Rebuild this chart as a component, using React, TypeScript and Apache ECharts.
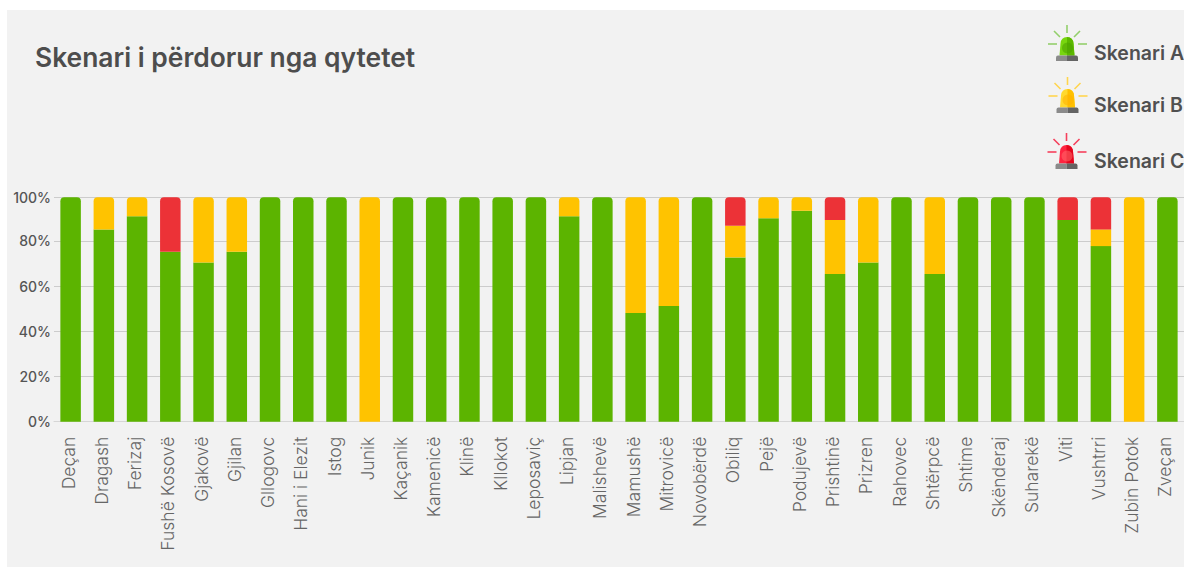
import React, { useEffect, useRef } from "react";
import * as echarts from "echarts";

const categories = ["Deçan","Dragash","Ferizaj","Fushë Kosovë","Gjakovë","Gjilan","Gllogovc","Hani i Elezit","Istog","Junik","Kaçanik","Kamenicë","Klinë","Kllokot","Leposaviç","Lipjan","Malishevë","Mamushë","Mitrovicë","Novobërdë","Obiliq","Pejë","Podujevë","Prishtinë","Prizren","Rahovec","Shtërpcë","Shtime","Skënderaj","Suharekë","Viti","Vushtrri","Zubin Potok","Zveçan"];
const AXIS_TOP = 99.3;
const skenariA = [99.3,85.1,90.9,75.2,70.4,75.2,99.3,99.3,99.3,0,99.3,99.3,99.3,99.3,99.3,90.9,99.3,48.1,51.2,99.3,72.7,90,93.4,65.4,70.4,99.3,65.4,99.3,99.3,99.3,89.2,77.7,0,99.3];
const skenariB = [0,14.2,8.4,0,28.9,24.1,0,0,0,99.3,0,0,0,0,0,8.4,0,51.2,48.1,0,14,9.3,5.9,23.8,28.9,0,33.9,0,0,0,0,7.4,99.3,0];
const skenariC = [0,0,0,24.1,0,0,0,0,0,0,0,0,0,0,0,0,0,0,0,0,12.6,0,0,10.1,0,0,0,0,0,0,10.1,14.2,0,0];

const legendNames = ["Skenari A", "Skenari B", "Skenari C"];
const barColors = ["#5cb400", "#ffc300", "#ec3237"];

echarts.graphic.registerShape("beaconDome", echarts.graphic.extendPath("M0 18.5 L1 6.5 Q1.6 0 7.5 0 Q13.4 0 14 6.5 L15 18.5 Z", {}));
echarts.graphic.registerShape("beaconDomeHalf", echarts.graphic.extendPath("M7.5 18.5 L7.5 0 Q13.4 0 14 6.5 L15 18.5 Z", {}));

const FONT = "Inter";

function beacon(cx: number, top: number, ray: string, light: string, dark: string, glow: string) {
  const rays = [
    [cx, top, cx, top + 8],
    [cx - 19, top + 19, cx - 10, top + 19],
    [cx + 11, top + 19, cx + 20, top + 19],
    [cx - 13, top + 6, cx - 7, top + 12],
    [cx + 13, top + 6, cx + 7, top + 12],
  ];
  return [
    ...rays.map(([x1, y1, x2, y2]) => ({ type: "line", silent: true, shape: { x1, y1, x2, y2 }, style: { stroke: ray, lineWidth: 1.6 } })),
    { type: "beaconDome", x: cx - 7.5, y: top + 12, silent: true, style: { fill: light } },
    { type: "beaconDomeHalf", x: cx - 7.5, y: top + 12, silent: true, style: { fill: dark } },
    { type: "circle", silent: true, shape: { cx: cx + 0.5, cy: top + 23, r: 5.5 }, style: { fill: glow, opacity: 0.55 } },
    { type: "rect", silent: true, shape: { x: cx - 11, y: top + 30.5, width: 11, height: 5.5, r: [2, 0, 0, 0] }, style: { fill: "#8b8b8b" } },
    { type: "rect", silent: true, shape: { x: cx, y: top + 30.5, width: 11, height: 5.5, r: [0, 2, 0, 0] }, style: { fill: "#646464" } },
  ];
}

function stacked(values: number[], above: number[][]) {
  return values.map((v, i) => ({
    value: v,
    itemStyle: { borderRadius: above.every((a) => a[i] === 0) ? [4, 4, 0, 0] : 0 },
  }));
}

export default function App() {
  const ref = useRef<HTMLDivElement>(null);
  useEffect(() => {
    document.body.style.margin = "0";
    const chart = echarts.init(ref.current!, null, { renderer: "svg" });
    const icons = [
      { cx: 1067, top: 25, ray: "#93cf6b", light: "#78d60f", dark: "#5cb800", glow: "#4aa000" },
      { cx: 1067.5, top: 77, ray: "#ffd54f", light: "#ffd92e", dark: "#ffc000", glow: "#ffb000" },
      { cx: 1066.5, top: 133, ray: "#f5405c", light: "#ff2440", dark: "#e5061e", glow: "#ff6a6a" },
    ];
    const labelY = [53, 105, 161];
    chart.setOption({
      animation: false,
      backgroundColor: "#ffffff",
      grid: { left: 54, right: 0, top: 197.3, bottom: 145.3, containLabel: false },
      graphic: [
        { type: "rect", z: -10, silent: true, shape: { x: 7, y: 10, width: 1177, height: 557 }, style: { fill: "#f2f2f2" } },
        { type: "text", x: 35, y: 57, silent: true, style: { text: "Skenari i përdorur nga qytetet", fill: "#4d4d4d", font: `600 26.4px ${FONT}`, verticalAlign: "middle" } },
        ...icons.flatMap((c) => beacon(c.cx, c.top, c.ray, c.light, c.dark, c.glow)),
        ...legendNames.map((name, i) => ({
          type: "text", x: 1094, y: labelY[i], silent: true,
          style: { text: name, fill: "#505050", font: `600 19.5px ${FONT}`, verticalAlign: "middle" },
        })),
      ],
      xAxis: {
        type: "category",
        data: categories,
        axisTick: { show: false },
        axisLine: { lineStyle: { color: "#d6d6d6", width: 1 } },
        axisLabel: { rotate: 90, interval: 0, margin: 15, fontFamily: FONT, fontSize: 17.5, fontWeight: 300, color: "#666666", lineHeight: 5, verticalAlign: "bottom" },
      },
      yAxis: {
        type: "value",
        min: 0,
        max: AXIS_TOP,
        interval: 20,
        axisLine: { show: false },
        axisTick: { show: false },
        splitLine: { lineStyle: { color: "#cccccc", width: 1 } },
        axisLabel: {
          margin: 3,
          fontFamily: FONT,
          fontSize: 14,
          fontWeight: 500,
          color: "#555555",
          formatter: (v: number) => (v >= 90 ? "100%" : `${v}%`),
        },
      },
      series: [
        { name: legendNames[0], type: "bar", stack: "s", barWidth: 20.5, data: stacked(skenariA, [skenariB, skenariC]), itemStyle: { color: barColors[0] } },
        { name: legendNames[1], type: "bar", stack: "s", barWidth: 20.5, data: stacked(skenariB, [skenariC]), itemStyle: { color: barColors[1] } },
        { name: legendNames[2], type: "bar", stack: "s", barWidth: 20.5, data: stacked(skenariC, []), itemStyle: { color: barColors[2] } },
      ],
    });
    return () => chart.dispose();
  }, []);
  return <div ref={ref} style={{ position: "absolute", left: 0, top: 0, width: 1184, height: 567 }} />;
}
